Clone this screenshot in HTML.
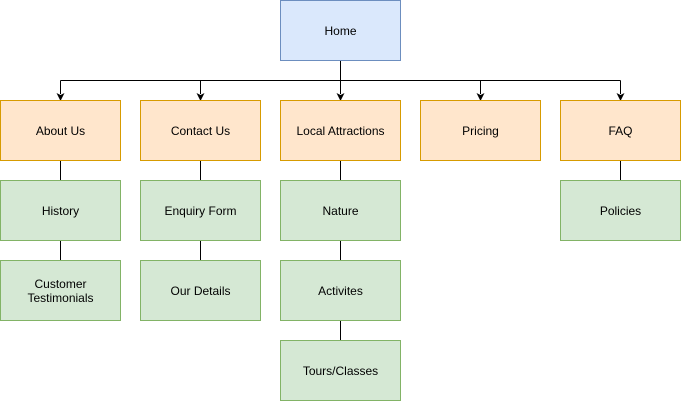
<!DOCTYPE html>
<html><head><meta charset="utf-8"><style>
html,body{margin:0;padding:0;background:#fff;}
svg{display:block;}
text{font-family:"Liberation Sans",Arial,sans-serif;font-size:12px;fill:#000;text-anchor:middle;dominant-baseline:middle;}
</style></head><body>
<svg width="681" height="401" viewBox="0 0 681 401" xmlns="http://www.w3.org/2000/svg">
<g stroke="#000" stroke-width="1" fill="none">
<path d="M340.5 60.5 V80.5 M60.5 80.5 H620.5 M60.5 80.5 V94 M200.5 80.5 V94 M340.5 80.5 V94 M480.5 80.5 V94 M620.5 80.5 V94"/>
<path d="M60.5 160.5 V180.5 M60.5 240.5 V260.5 M200.5 160.5 V180.5 M200.5 240.5 V260.5 M340.5 160.5 V180.5 M340.5 240.5 V260.5 M340.5 320.5 V340.5 M620.5 160.5 V180.5"/>
</g>
<g fill="#000">
<path d="M56.5 93 L60.5 101 L64.5 93 L60.5 95 Z"/>
<path d="M196.5 93 L200.5 101 L204.5 93 L200.5 95 Z"/>
<path d="M336.5 93 L340.5 101 L344.5 93 L340.5 95 Z"/>
<path d="M476.5 93 L480.5 101 L484.5 93 L480.5 95 Z"/>
<path d="M616.5 93 L620.5 101 L624.5 93 L620.5 95 Z"/>
</g>
<rect x="280.5" y="0.5" width="120" height="60" fill="#dae8fc" stroke="#6c8ebf"/>
<text x="340.5" y="32">Home</text>
<g fill="#ffe6cc" stroke="#d79b00">
<rect x="0.5" y="100.5" width="120" height="60"/>
<rect x="140.5" y="100.5" width="120" height="60"/>
<rect x="280.5" y="100.5" width="120" height="60"/>
<rect x="420.5" y="100.5" width="120" height="60"/>
<rect x="560.5" y="100.5" width="120" height="60"/>
</g>
<text x="60.5" y="132">About Us</text>
<text x="200.5" y="132">Contact Us</text>
<text x="340.5" y="132">Local Attractions</text>
<text x="480.5" y="132">Pricing</text>
<text x="620.5" y="132">FAQ</text>
<g fill="#d5e8d4" stroke="#82b366">
<rect x="0.5" y="180.5" width="120" height="60"/>
<rect x="0.5" y="260.5" width="120" height="60"/>
<rect x="140.5" y="180.5" width="120" height="60"/>
<rect x="140.5" y="260.5" width="120" height="60"/>
<rect x="280.5" y="180.5" width="120" height="60"/>
<rect x="280.5" y="260.5" width="120" height="60"/>
<rect x="280.5" y="340.5" width="120" height="60"/>
<rect x="560.5" y="180.5" width="120" height="60"/>
</g>
<text x="60.5" y="212">History</text>
<text x="60.5" y="285">Customer</text>
<text x="60.5" y="299">Testimonials</text>
<text x="200.5" y="212">Enquiry Form</text>
<text x="200.5" y="292">Our Details</text>
<text x="340.5" y="212">Nature</text>
<text x="340.5" y="292">Activites</text>
<text x="340.5" y="372">Tours/Classes</text>
<text x="620.5" y="212">Policies</text>
</svg>
</body></html>
